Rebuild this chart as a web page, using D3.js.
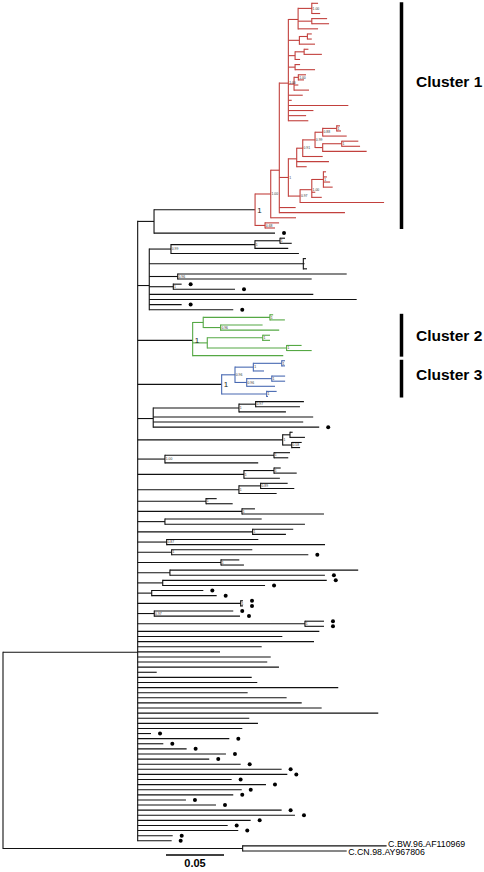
<!DOCTYPE html>
<html><head><meta charset="utf-8">
<script src="https://cdn.jsdelivr.net/npm/d3@7"></script>
<style>html,body{margin:0;padding:0;background:#fff;} svg{display:block;}</style>
</head><body><svg id="chart" width="484" height="872"></svg>
<script>
// ---------- DATA (branch lengths in substitutions/site) ----------
// node: leaf = [length] or [length, 1] (1 = marked with a dot)
//       internal = [length, "support", [children]]
const mainStem = 0.1161;
const pStem = 0.0141;
const dottedSisterLeaf = [0.1043, 1];

const cluster1 = [0.0871, "1", [
  [0.0135, "1.00", [
    [0.0074, "", [
      [0.0078, "1.00", [
        [0.0084, "", [
          [0.0118, "1.00", [[0.0054], [0.0003], [0.0072]]],
          [0.0118, "", [[0.0132], [0.0149]]],
          [0.0172]
        ]],
        [0.0095, "", [
          [0.0069, "", [[0.0038], [0.0038]]],
          [0.0135]
        ]],
        [0.0058, "", [
          [0.0078, "", [[0.0037], [0.0153]]],
          [0.0043]
        ]],
        [0.0058, "", [[0.0043], [0.0172]]],
        [0.0049, "", [
          [0.0037, "1.00", [[0.0066], [0.0049]]],
          [0.0037],
          [0.0129]
        ]],
        [0.0124], [0.0029], [0.0517], [0.0216], [0.0153], [0.0172]
      ]],
      [0.0078, "1", [
        [0.0072, "", [
          [0.0052, "0.91", [
            [0.0106, "0.99", [
              [0.0066, "0.88", [
                [0.0121, "1", [[0.0028], [0.0037]]],
                [0.0207]
              ]],
              [0.0066, "", [
                [0.0164, "1", [[0.0143], [0.0158]]],
                [0.0379]
              ]]
            ]],
            [0.0172]
          ]],
          [0.0278],
          [0.0086]
        ]],
        [0.0101, "0.97", [
          [0.0101, "1.00", [
            [0.0100, "1", [[0.0023], [0.0030], [0.0058], [0.0080]]],
            [0.0030],
            [0.0086]
          ]],
          [0.0724]
        ]]
      ]],
      [0.0141],
      [0.0566]
    ]],
    [0.0218]
  ]],
  [0.0086, "0.68", [[0.0121], [0.0086]]]
]];

const cladeQ = [0.0100, "", [
  [0.0187, "0.99", [
    [0.0724, "1", [
      [0.0216, "1", [[0.0043], [0.0101]]],
      [0.0287]
    ]],
    [0.1103]
  ]],
  [0.1328, "", [[0.0023], [0.0010], [0.0032]]],
  [0.0245, "0.96", [[0.1457], [0.1155]]],
  [0.0207, "1", [[0.0072, 1], [0.0532, 1]]],
  [0.1414], [0.1788], [0.0279, 1], [0.0724, 1]
]];

const cluster2 = [0.0474, "1", [
  [0.0091, "", [
    [0.0575, "1", [[0.0028], [0.0129]]],
    [0.0150, "0.96", [[0.0362], [0.0505]]]
  ]],
  [0.0126, "", [
    [0.0478, "1", [[0.0063], [0.0063]]],
    [0.0684, "1", [[0.0129], [0.0216]]]
  ]],
  [0.0781]
]];

const cluster3 = [0.0724, "1", [
  [0.0115, "0.96", [
    [0.0158, "1", [
      [0.0245, "1", [[0.0028], [0.0028]]],
      [0.0092]
    ]],
    [0.0101, "0.96", [
      [0.0216, "1", [[0.0115], [0.0115]]],
      [0.0244]
    ]]
  ]],
  [0.0388, "1", [[0.0086], [0.0011]]]
]];

const midClades = [
  [0.0134, "", [
    [0.0739, "1", [
      [0.0144, "0.97", [[0.0416], [0.0382]]],
      [0.0405]
    ]],
    [0.1379], [0.1293], [0.1431, 1]
  ]],
  [0.1250, "1", [
    [0.0063, "", [[0.0023], [0.0129]]],
    [0.0078, "0.58", [[0.0086], [0.0072]]]
  ]],
  [0.0235, "1.00", [
    [0.0940, "1", [[0.0138], [0.0123]]],
    [0.0804]
  ]],
  [0.0916, "1", [
    [0.0259, "1", [[0.0058], [0.0196]]],
    [0.0310]
  ]],
  [0.0873, "1", [
    [0.0187, "0.89", [[0.0233], [0.0290]]],
    [0.0325]
  ]]
];

const cherries = [
  [0.0589, "1", [[0.0092], [0.0230]]],
  [0.0899, "1", [[0.0112], [0.0707]]],
  [0.0235, "", [[0.0834], [0.1207]]],
  [0.0991, "1", [[0.0350], [0.0287]]],
  [0.0250, "0.87", [[0.0790], [0.1365]]],
  [0.0293, "1", [[0.0695], [0.1178, 1]]],
  [0.0718, "1", [[0.0158], [0.0198]]],
  [0.0278, "", [[0.1623], [0.1336, 1]]],
  [0.0216, "", [[0.1414, 1], [0.0882, 1]]],
  [0.0121, "", [[0.0445, 1], [0.0560, 1]]],
  [0.0888, "1", [[0.0020, 1], [0.0020, 1]]],
  [0.0143, "0.97", [[0.0681, 1], [0.0739, 1]]],
  [0.1442, "1", [[0.0164, 1], [0.0164, 1]]]
];

const directLeafLengths = [0.1566, 0.1247, 0.1520, 0.1069, 0.0710, 0.1147, 0.1117, 0.1218, 0.0164, 0.0983,
  0.1031, 0.1729, 0.0948, 0.1284, 0.1414, 0.1586, 0.2074, 0.0962, 0.1037, 0.0902,
  0.0115, 0.0790, 0.0221, 0.0422, 0.0761, 0.0617, 0.0888, 0.1241, 0.1290, 0.0810,
  0.1106, 0.0897, 0.0824, 0.0416, 0.0675, 0.1241, 0.1356, 0.0974, 0.0776, 0.0867,
  0.0302, 0.0293];
const directLeafDots = [0,0,0,0,0,0,0,0,0,0, 0,0,0,0,0,0,0,0,0,0, 1,1,1,1,1,1,1,1,1,1, 1,1,1,1,1,1,1,1,1,1, 1,1];

const outgroupStem = 0.2066;
const outgroupLengths = [0.1241, 0.0897];
const outgroupNames = ["C.BW.96.AF110969", "C.CN.98.AY967806"];

const clusterNames = ["Cluster 1", "Cluster 2", "Cluster 3"];
const clusterColors = ["#c2403d", "#55a844", "#4869b2"];
const scaleBarValue = 0.05;

// ---------- BUILD ----------
function toNode(a) {
  if (Array.isArray(a[2])) return {len: a[0], sup: a[1], children: a[2].map(toNode)};
  return {len: a[0], dot: !!a[1]};
}
const c1 = toNode(cluster1); c1.cluster = 0;
const c2 = toNode(cluster2); c2.cluster = 1;
const c3 = toNode(cluster3); c3.cluster = 2;
const ingroup = {len: mainStem, sup: "", children: [
  {len: pStem, sup: "", children: [c1, toNode(dottedSisterLeaf)]},
  toNode(cladeQ), c2, c3,
  ...midClades.map(toNode),
  ...cherries.map(toNode),
  ...directLeafLengths.map((l, i) => ({len: l, dot: !!directLeafDots[i]}))
]};
const outgroup = {len: outgroupStem, sup: "", children: outgroupLengths.map((l, i) => ({len: l, name: outgroupNames[i]}))};
const treeData = {len: 0, sup: "", children: [ingroup, outgroup]};

const root = d3.hierarchy(treeData);
const leaves = root.leaves();
leaves.forEach((l, i) => l.idx = i);

const xScale = d3.scaleLinear().domain([0, scaleBarValue]).range([3, 61]);
const yScale = d3.scaleLinear().domain([0, leaves.length - 1]).range([3.3, 851]);

root.eachBefore(n => {
  n.dist = (n.parent ? n.parent.dist : 0) + n.data.len;
  n.clade = n.data.cluster != null ? n.data.cluster : (n.parent ? n.parent.clade : -1);
});
root.eachAfter(n => {
  n.px = xScale(n.dist);
  n.py = n.children ? d3.mean(n.children, c => c.py) : yScale(n.idx);
});
const col = c => c < 0 ? "#111" : clusterColors[c];

// ---------- DRAW ----------
const svg = d3.select("#chart");
const g = svg.append("g");
const sw = 1.1;

// horizontal branches
g.selectAll("line.h").data(root.descendants().filter(n => n.parent)).join("line")
  .attr("class", "h")
  .attr("x1", n => n.parent.px).attr("x2", n => n.px)
  .attr("y1", n => n.py).attr("y2", n => n.py)
  .attr("stroke", n => col(n.parent.clade)).attr("stroke-width", sw);

// vertical connectors
g.selectAll("line.v").data(root.descendants().filter(n => n.children)).join("line")
  .attr("class", "v")
  .attr("x1", n => n.px).attr("x2", n => n.px)
  .attr("y1", n => n.children[0].py - sw / 2).attr("y2", n => n.children[n.children.length - 1].py + sw / 2)
  .attr("stroke", n => col(n.clade)).attr("stroke-width", sw);

// dots
g.selectAll("circle.dot").data(leaves.filter(l => l.data.dot)).join("circle")
  .attr("cx", n => n.px + 9).attr("cy", n => n.py).attr("r", 2).attr("fill", "#000");

// support values
const supNodes = root.descendants().filter(n => n.children && n.data.sup);
g.selectAll("text.sup").data(supNodes).join("text")
  .attr("x", n => n.px + (n.data.cluster != null ? 2.2 : 0.8))
  .attr("y", n => n.py)
  .attr("dy", "0.35em")
  .attr("font-family", "Liberation Sans, Arial, sans-serif")
  .attr("font-size", n => n.data.cluster != null ? 8 : 3.4)
  .attr("fill", n => n.data.cluster != null ? "#222" : "#333")
  .text(n => n.data.sup);

// outgroup names
g.selectAll("text.name").data(leaves.filter(l => l.data.name)).join("text")
  .attr("x", n => n.px + 1.5).attr("y", (n, i) => n.py + (i === 0 ? -2 : 1))
  .attr("dy", "0.35em")
  .attr("font-family", "Liberation Sans, Arial, sans-serif")
  .attr("font-size", 8.8).attr("fill", "#000")
  .text(n => n.data.name);

// cluster bars + labels
const clusterRoots = [c1, c2, c3].map(d => root.descendants().find(n => n.data === d));
const labelFrac = [0.35, 0.5, 0.4];
clusterRoots.forEach((cr, i) => {
  const ls = cr.leaves();
  const y0 = ls[0].py - 1, y1 = ls[ls.length - 1].py + 1;
  g.append("line").attr("x1", 401.5).attr("x2", 401.5).attr("y1", y0).attr("y2", y1)
    .attr("stroke", "#000").attr("stroke-width", 3.5);
  g.append("text").attr("x", 416).attr("y", y0 + (y1 - y0) * labelFrac[i]).attr("dy", "0.35em")
    .attr("font-family", "Liberation Sans, Arial, sans-serif").attr("font-weight", "bold")
    .attr("font-size", 15.5).attr("fill", "#000").text(clusterNames[i]);
});

// scale bar
const sbX = 166, sbY = 855;
const sbLen = xScale(scaleBarValue) - xScale(0);
g.append("line").attr("x1", sbX).attr("x2", sbX + sbLen).attr("y1", sbY).attr("y2", sbY)
  .attr("stroke", "#000").attr("stroke-width", 1.5);
g.append("text").attr("x", sbX + sbLen / 2).attr("y", 866.5).attr("text-anchor", "middle")
  .attr("font-family", "Liberation Sans, Arial, sans-serif").attr("font-weight", "bold")
  .attr("font-size", 11).attr("fill", "#000").text(scaleBarValue.toFixed(2));
</script>
</body></html>
